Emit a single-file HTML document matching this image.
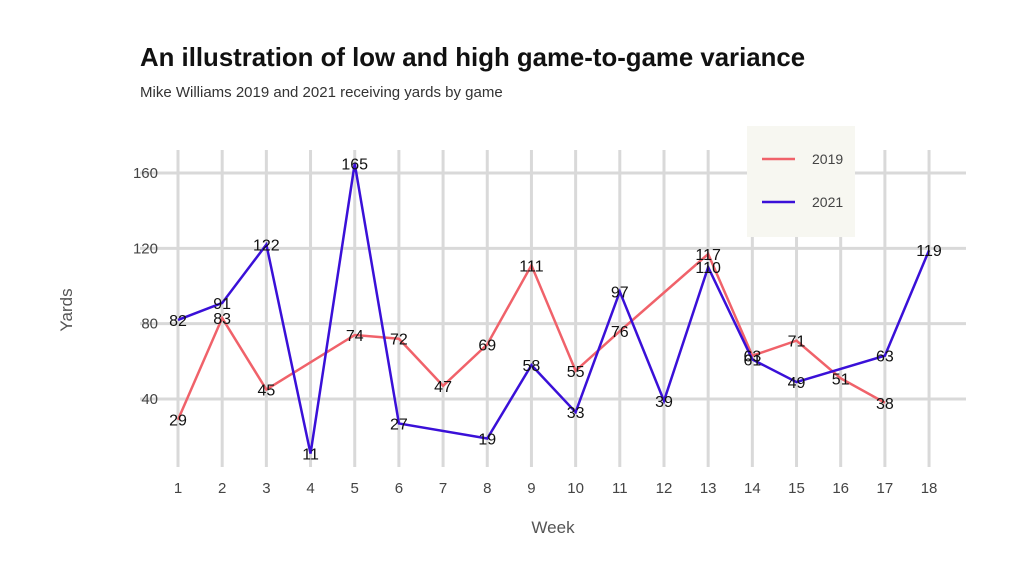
<!DOCTYPE html>
<html><head><meta charset="utf-8"><style>
body{margin:0;background:#fff;}
svg{display:block;font-family:"Liberation Sans",sans-serif;}
</style></head><body>
<svg width="1024" height="576" xmlns="http://www.w3.org/2000/svg">
<rect width="1024" height="576" fill="#fff"/>
<text x="140" y="66" font-size="25.8" font-weight="bold" fill="#111">An illustration of low and high game-to-game variance</text>
<text x="140" y="97" font-size="15" fill="#333">Mike Williams 2019 and 2021 receiving yards by game</text>
<g id="grid" stroke="#d9d9d9" stroke-width="3"></g>
<rect x="747" y="126" width="108" height="111" fill="#f7f7f1"/>
<line x1="762" y1="159" x2="795" y2="159" stroke="#f0626a" stroke-width="2.5"/>
<line x1="762" y1="202" x2="795" y2="202" stroke="#3a10d8" stroke-width="2.5"/>
<text x="812" y="164" font-size="14" fill="#444">2019</text>
<text x="812" y="207" font-size="14" fill="#444">2021</text>
<g id="ylab" font-size="15" fill="#444" text-anchor="end"></g>
<g id="xlab" font-size="15" fill="#444" text-anchor="middle"></g>
<text x="553" y="533" font-size="17" fill="#555" text-anchor="middle">Week</text>
<text transform="translate(72,310) rotate(-90)" font-size="17" fill="#555" text-anchor="middle">Yards</text>
<polyline id="l19" fill="none" stroke="#f0626a" stroke-width="2.5"/>
<polyline id="l21" fill="none" stroke="#3a10d8" stroke-width="2.5"/>
<g id="dl" font-size="16" fill="#111" text-anchor="middle"></g>
</svg>
<script>
var X=w=>178+(w-1)*44.18, Y=v=>399-(v-40)*1.883;
var ns="http://www.w3.org/2000/svg";
function el(p,t,a,txt){var e=document.createElementNS(ns,t);for(var k in a)e.setAttribute(k,a[k]);if(txt!=null)e.textContent=txt;document.getElementById(p).appendChild(e);}
for(var w=1;w<=18;w++){el("grid","line",{x1:X(w),x2:X(w),y1:150,y2:467});el("xlab","text",{x:X(w),y:493},w);}
[40,80,120,160].forEach(v=>{el("grid","line",{x1:140,x2:966,y1:Y(v),y2:Y(v)});el("ylab","text",{x:158,y:Y(v)+5},v);});
var d19=[[1,29],[2,83],[3,45],[5,74],[6,72],[7,47],[8,69],[9,111],[10,55],[11,76],[13,117],[14,63],[15,71],[16,51],[17,38]];
var d21=[[1,82],[2,91],[3,122],[4,11],[5,165],[6,27],[8,19],[9,58],[10,33],[11,97],[12,39],[13,110],[14,61],[15,49],[17,63],[18,119]];
document.getElementById("l19").setAttribute("points",d19.map(p=>X(p[0])+","+Y(p[1])).join(" "));
document.getElementById("l21").setAttribute("points",d21.map(p=>X(p[0])+","+Y(p[1])).join(" "));
d19.concat(d21).forEach(p=>el("dl","text",{x:X(p[0]),y:Y(p[1])+6},p[1]));
</script>
</body></html>
